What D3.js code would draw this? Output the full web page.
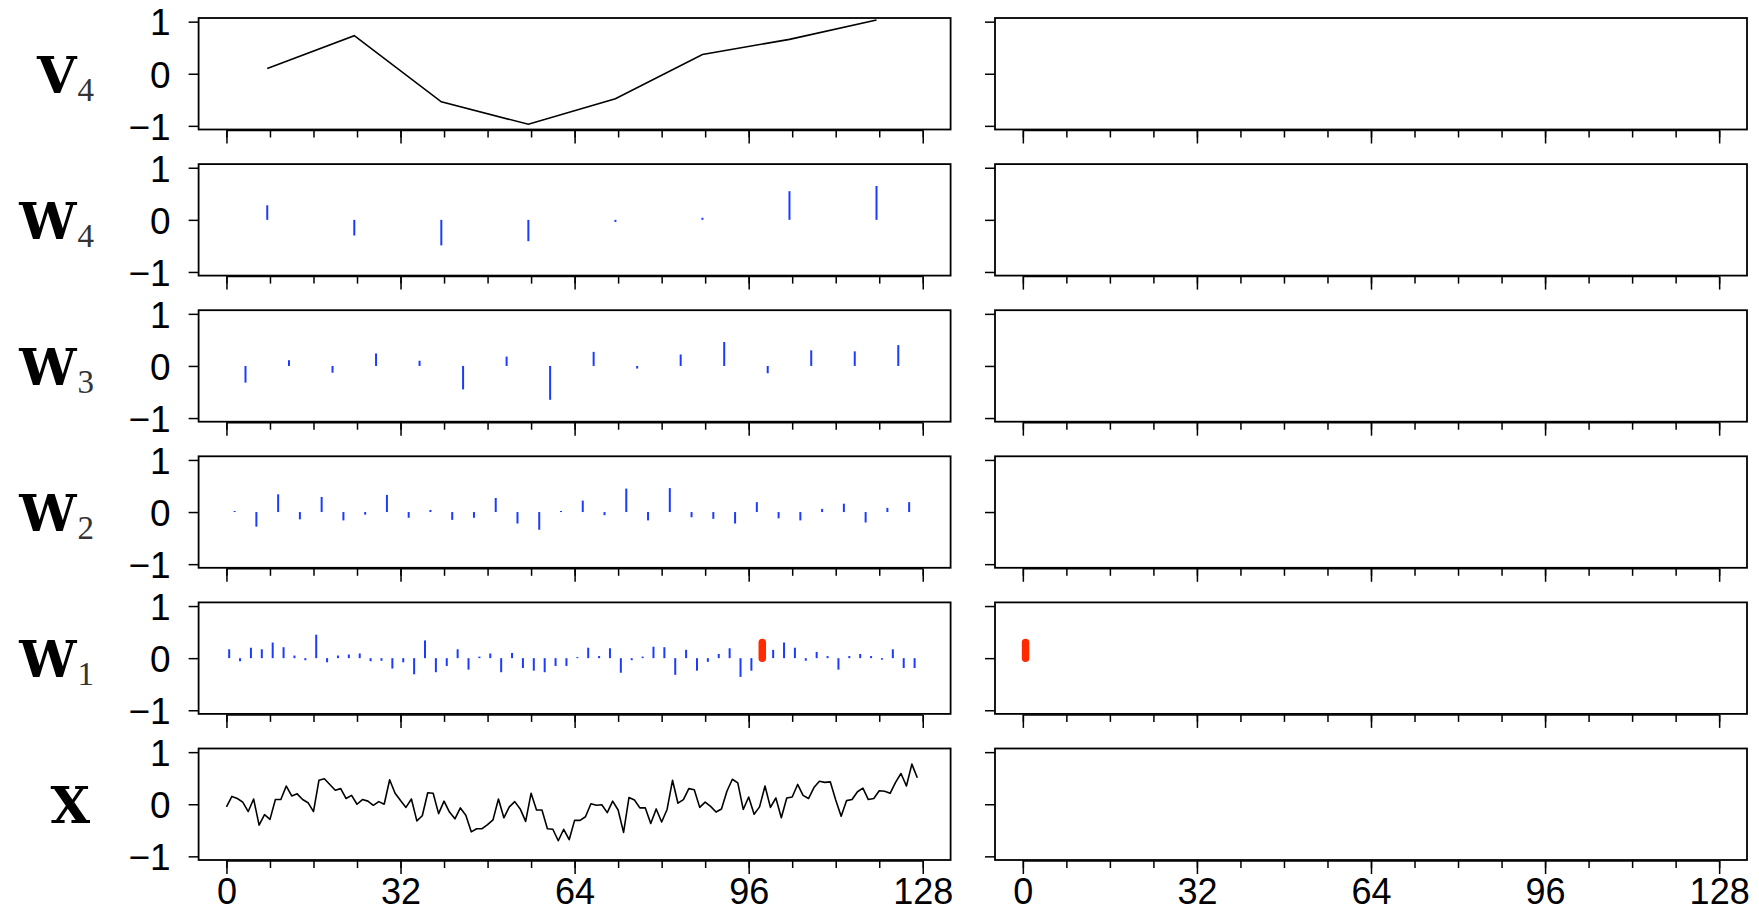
<!DOCTYPE html>
<html>
<head>
<meta charset="utf-8">
<script src="https://cdn.jsdelivr.net/npm/d3@7/dist/d3.min.js"></script>
<style>
  html, body { margin: 0; padding: 0; background: #fff; }
  svg { display: block; }
</style>
</head>
<body>
<svg id="chart" width="1759" height="913"></svg>
<script>
// ---------------- DATA ----------------
const rowNames = ["V", "W", "W", "W", "W", "X"];
const rowSubs  = ["4", "4", "3", "2", "1", ""];

const v4Pos = [7.5, 23.5, 39.5, 55.5, 71.5, 87.5, 103.5, 119.5];
const v4Vals = [0.10, 0.73, -0.54, -0.97, -0.48, 0.37, 0.66, 1.03];

const w4Pos = [7.5, 23.5, 39.5, 55.5, 71.5, 87.5, 103.5, 119.5];
const w4Vals = [0.28, -0.30, -0.49, -0.41, -0.04, 0.04, 0.55, 0.65];

const w3Pos = [3.5, 11.5, 19.5, 27.5, 35.5, 43.5, 51.5, 59.5, 67.5, 75.5, 83.5, 91.5, 99.5, 107.5, 115.5, 123.5];
const w3Vals = [-0.32, 0.11, -0.13, 0.24, 0.10, -0.45, 0.18, -0.65, 0.27, -0.05, 0.22, 0.46, -0.14, 0.30, 0.28, 0.40];

const w2Pos = [1.5, 5.5, 9.5, 13.5, 17.5, 21.5, 25.5, 29.5, 33.5, 37.5, 41.5, 45.5, 49.5, 53.5, 57.5, 61.5,
               65.5, 69.5, 73.5, 77.5, 81.5, 85.5, 89.5, 93.5, 97.5, 101.5, 105.5, 109.5, 113.5, 117.5, 121.5, 125.5];
const w2Vals = [0.02, -0.28, 0.34, -0.14, 0.29, -0.16, -0.05, 0.33, -0.11, 0.04, -0.15, -0.11, 0.27, -0.22, -0.34, 0.02,
                0.22, -0.06, 0.45, -0.16, 0.46, -0.10, -0.13, -0.22, 0.19, -0.12, -0.16, 0.06, 0.16, -0.20, 0.08, 0.19];

const w1Pos = [0.5, 2.5, 4.5, 6.5, 8.5, 10.5, 12.5, 14.5, 16.5, 18.5, 20.5, 22.5, 24.5, 26.5, 28.5, 30.5,
               32.5, 34.5, 36.5, 38.5, 40.5, 42.5, 44.5, 46.5, 48.5, 50.5, 52.5, 54.5, 56.5, 58.5, 60.5, 62.5,
               64.5, 66.5, 68.5, 70.5, 72.5, 74.5, 76.5, 78.5, 80.5, 82.5, 84.5, 86.5, 88.5, 90.5, 92.5, 94.5,
               96.5, 98.5, 100.5, 102.5, 104.5, 106.5, 108.5, 110.5, 112.5, 114.5, 116.5, 118.5, 120.5, 122.5, 124.5, 126.5];
const w1Vals = [0.17, -0.06, 0.20, 0.17, 0.30, 0.21, 0.05, -0.04, 0.45, -0.08, 0.05, 0.07, 0.09, -0.06, -0.05, -0.20,
                -0.08, -0.31, 0.34, -0.27, -0.15, 0.17, -0.22, 0.03, 0.09, -0.27, 0.10, -0.19, -0.24, -0.27, -0.15, -0.15,
                0.02, 0.20, 0.04, 0.19, -0.28, -0.04, 0.03, 0.22, 0.21, -0.32, 0.16, -0.24, -0.07, 0.08, 0.19, -0.36,
                -0.24, 0.30, 0.16, 0.30, 0.20, -0.05, 0.12, 0.04, -0.22, 0.04, 0.08, 0.04, -0.03, 0.17, -0.19, -0.19];
const w1Highlight = 49;              // index of the red coefficient
const rightW1Pos = [0.5];
const rightW1Vals = [0.30];

const xVals = [-0.05, 0.15, 0.11, 0.04, -0.14, 0.10, -0.40, -0.20, -0.29, 0.09, 0.09, 0.35, 0.16, 0.20, 0.09, 0.03,
  -0.14, 0.46, 0.49, 0.38, 0.27, 0.30, 0.11, 0.17, 0.00, 0.09, 0.06, -0.02, 0.05, 0.00, 0.47, 0.21,
  0.07, -0.06, 0.10, -0.32, -0.22, 0.22, 0.21, -0.18, 0.06, -0.15, -0.28, -0.07, -0.21, -0.53, -0.47, -0.47,
  -0.39, -0.30, 0.10, -0.26, -0.05, 0.05, -0.09, -0.33, 0.21, -0.11, -0.11, -0.47, -0.48, -0.70, -0.48, -0.68,
  -0.31, -0.31, -0.24, 0.01, -0.02, -0.01, -0.16, 0.06, -0.11, -0.54, 0.13, 0.08, -0.07, -0.07, -0.37, -0.09,
  -0.34, -0.10, 0.46, 0.02, 0.09, 0.30, 0.28, -0.06, 0.04, -0.04, -0.15, -0.09, 0.25, 0.48, 0.41, -0.10,
  0.14, -0.19, -0.05, 0.35, -0.06, 0.12, -0.26, 0.12, 0.14, 0.38, 0.17, 0.11, 0.32, 0.44, 0.42, 0.43,
  0.08, -0.23, 0.07, 0.09, 0.24, 0.31, 0.09, 0.11, 0.26, 0.25, 0.21, 0.42, 0.59, 0.35, 0.77, 0.51];

const xMajorTicks = [0, 32, 64, 96, 128];
const xMinorTicks = d3.range(0, 129, 8);
const yTicks = [-1, 0, 1];
const yTickLabels = ["\u22121", "0", "1"];

// ---------------- LAYOUT ----------------
const svg = d3.select("#chart");
const colLeft = [198.6, 995];
const boxW = 752;
const boxH = 111.5;
const rowTop0 = 18;
const rowStep = 146.1;

const BLUE = "#1b3cff";
const RED = "#ff2a00";
const tickFont = "'Liberation Sans', Arial, Helvetica, sans-serif";
const labelFont = "'DejaVu Serif', 'Liberation Serif', serif";
const subFont = "'Liberation Serif', 'Times New Roman', serif";

function panel(row, col) {
  const x0 = colLeft[col], y0 = rowTop0 + row * rowStep;
  const x = d3.scaleLinear().domain([-5.12, 133.12]).range([x0, x0 + boxW]);
  const y = d3.scaleLinear().domain([-1.07, 1.07]).range([y0 + boxH, y0]);
  const g = svg.append("g");

  // x axis (ticks below box)
  const bottom = y0 + boxH;
  const axisG = g.append("g").attr("transform", `translate(0,${bottom + 1})`);
  axisG.call(d3.axisBottom(x).tickValues(xMinorTicks).tickSize(7).tickFormat(""))
    .call(a => a.select(".domain").remove());
  const isBottom = row === 5;
  const majG = g.append("g").attr("transform", `translate(0,${bottom + 1})`);
  majG.call(d3.axisBottom(x).tickValues(xMajorTicks).tickSize(13).tickPadding(4)
      .tickFormat(isBottom ? d3.format("d") : ""))
    .call(a => a.select(".domain").remove());
  g.selectAll(".tick line").attr("stroke", "#000").attr("stroke-width", 1.5);
  majG.selectAll(".tick text")
    .attr("font-family", tickFont).attr("font-size", 36).attr("fill", "#000");
  g.append("line").attr("x1", x(0)).attr("x2", x(128))
    .attr("y1", bottom + 1).attr("y2", bottom + 1)
    .attr("stroke", "#000").attr("stroke-width", 1.5);

  // y axis
  const yG = g.append("g").attr("transform", `translate(${x0},0)`);
  yG.call(d3.axisLeft(y).tickValues(yTicks).tickSize(10).tickPadding(18)
      .tickFormat(col === 0 ? ((d, i) => yTickLabels[i]) : ""))
    .call(a => a.select(".domain").remove());
  yG.selectAll(".tick line").attr("stroke", "#000").attr("stroke-width", 1.5);
  yG.selectAll(".tick text")
    .attr("font-family", tickFont).attr("font-size", 37).attr("fill", "#000")
    .attr("dy", "0.36em");

  // box
  g.append("rect").attr("x", x0).attr("y", y0).attr("width", boxW).attr("height", boxH)
    .attr("fill", "none").attr("stroke", "#000").attr("stroke-width", 1.8);

  return { g, x, y };
}

function stems(p, pos, vals, color, width, cap) {
  p.g.append("g").selectAll("line").data(vals).join("line")
    .attr("x1", (d, i) => p.x(pos[i])).attr("x2", (d, i) => p.x(pos[i]))
    .attr("y1", p.y(0)).attr("y2", d => p.y(d))
    .attr("stroke", color).attr("stroke-width", width).attr("stroke-linecap", cap || "butt");
}

const panels = [];
for (let r = 0; r < 6; r++) {
  panels.push([panel(r, 0), panel(r, 1)]);
}

// V4 line
{
  const p = panels[0][0];
  p.g.append("path").datum(v4Vals)
    .attr("d", d3.line().x((d, i) => p.x(v4Pos[i])).y(d => p.y(d)))
    .attr("fill", "none").attr("stroke", "#000").attr("stroke-width", 1.6);
}
stems(panels[1][0], w4Pos, w4Vals, BLUE, 2);
stems(panels[2][0], w3Pos, w3Vals, BLUE, 2);
stems(panels[3][0], w2Pos, w2Vals, BLUE, 2);
{
  const p = panels[4][0];
  const bluePos = w1Pos.filter((d, i) => i !== w1Highlight);
  const blueVals = w1Vals.filter((d, i) => i !== w1Highlight);
  stems(p, bluePos, blueVals, BLUE, 2);
  stems(p, [w1Pos[w1Highlight]], [w1Vals[w1Highlight]], RED, 7.5, "round");
  stems(panels[4][1], rightW1Pos, rightW1Vals, RED, 7.5, "round");
}
// X line
{
  const p = panels[5][0];
  p.g.append("path").datum(xVals)
    .attr("d", d3.line().x((d, i) => p.x(i)).y(d => p.y(d)))
    .attr("fill", "none").attr("stroke", "#000").attr("stroke-width", 1.6)
    .attr("stroke-linejoin", "round");
}

// Row labels
for (let r = 0; r < 6; r++) {
  const p = panels[r][0];
  const t = svg.append("text")
    .attr("x", rowSubs[r] ? 94 : 90).attr("y", p.y(0) + 19)
    .attr("text-anchor", "end");
  t.append("tspan").text(rowNames[r]).attr("font-family", labelFont)
    .attr("font-weight", "bold").attr("font-size", 51).attr("fill", "#000");
  if (rowSubs[r]) {
    t.append("tspan").text(rowSubs[r]).attr("font-family", subFont)
      .attr("font-size", 33).attr("dy", 8).attr("dx", 1).attr("fill", "#333");
  }
}
</script>
</body>
</html>
